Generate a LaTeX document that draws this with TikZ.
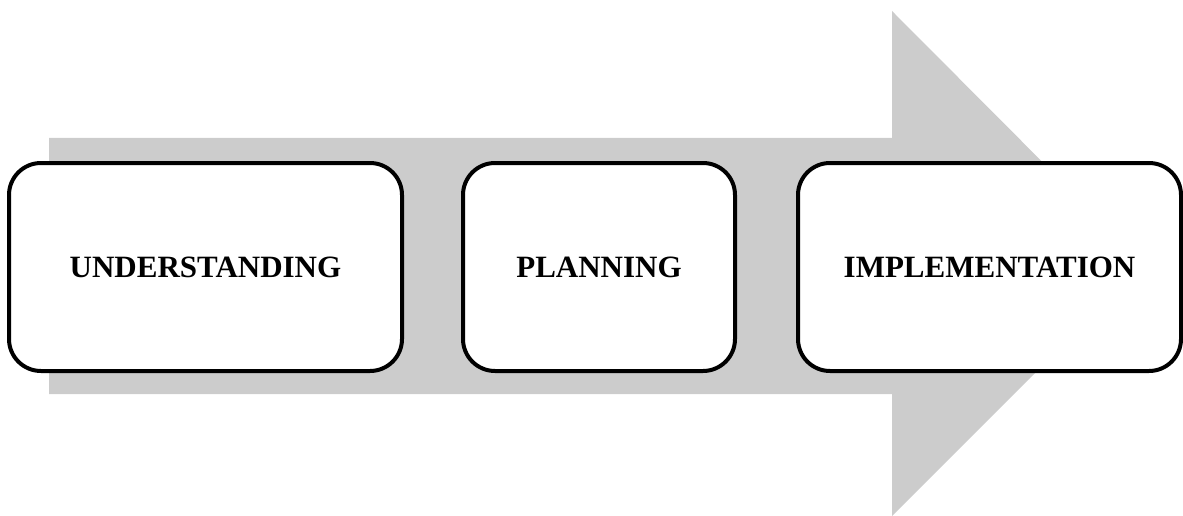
\documentclass[tikz,border=0pt]{standalone}
\usepackage{fontspec}
\setmainfont{Liberation Serif}
\definecolor{arrowgray}{HTML}{CCCCCC}
\begin{document}
\begin{tikzpicture}[x=1pt,y=-1pt,
  stagebox/.style={draw=black, line width=4pt, fill=white, rounded corners=32pt,
    inner sep=0pt, font=\fontsize{31}{37}\selectfont\bfseries},
]
\useasboundingbox (0,0) rectangle (1183,516);
% broad grey arrow running behind the stages
\fill[arrowgray] (49,138) -- (892,138) -- (892,11) -- (1144,264)
  -- (892,516) -- (892,394) -- (49,394) -- cycle;
% stage boxes
\node[stagebox, minimum width=393pt, minimum height=208pt] (und) at (205.5,267) {UNDERSTANDING};
\node[stagebox, minimum width=272pt, minimum height=208pt] (plan) at (599,267) {PLANNING};
\node[stagebox, minimum width=383pt, minimum height=208pt] (impl) at (989.5,267) {IMPLEMENTATION};
\end{tikzpicture}
\end{document}
